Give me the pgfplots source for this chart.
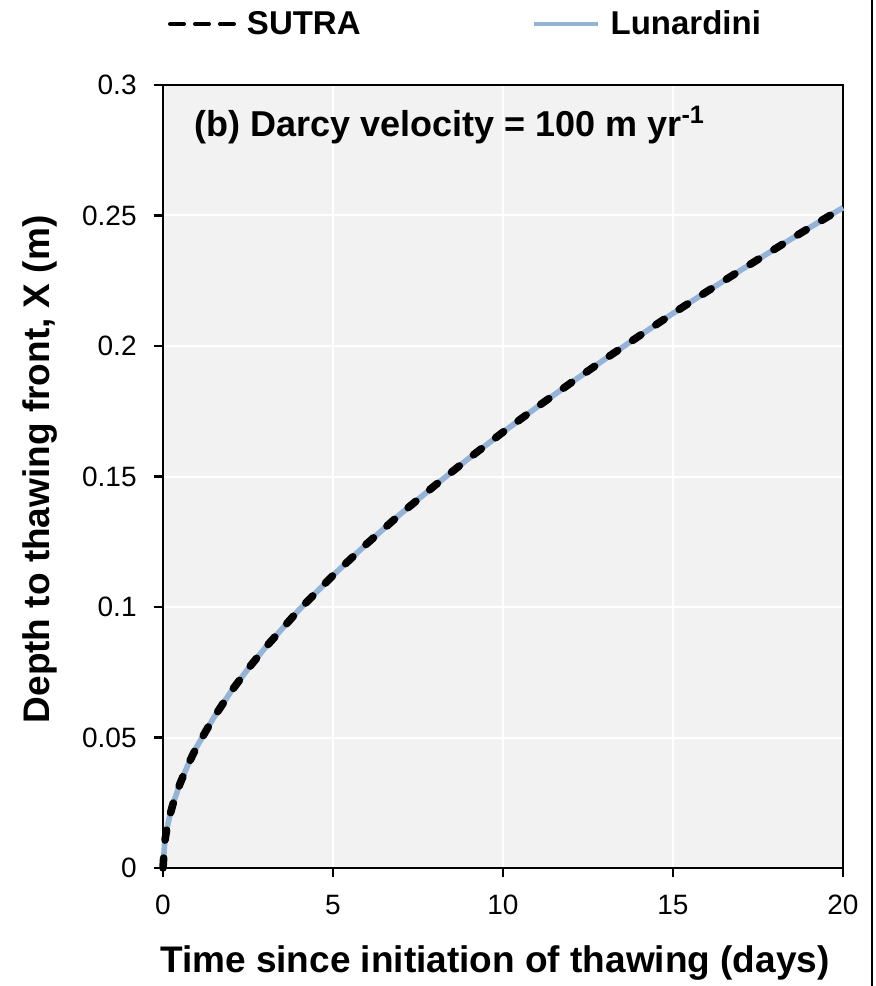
\documentclass[border=0pt]{standalone}
\usepackage{fontspec}
\setmainfont{Liberation Sans}
\usepackage{pgfplots}
\pgfplotsset{compat=1.18}
\definecolor{plotbg}{HTML}{F2F2F2}
\definecolor{lunblue}{HTML}{95B3D7}
\begin{document}
\begin{tikzpicture}
\useasboundingbox (-81.5pt,-59pt) rectangle (356pt,434pt);
\begin{axis}[
  at={(0pt,0pt)}, anchor=south west,
  scale only axis,
  width=340pt, height=391.5pt,
  xmin=0, xmax=20, ymin=0, ymax=0.3,
  xtick={0,5,10,15,20},
  ytick={0,0.05,0.1,0.15,0.2,0.25,0.3},
  yticklabels={0,0.05,0.1,0.15,0.2,0.25,0.3},
  xticklabels={0,5,10,15,20},
  axis background/.style={fill=plotbg},
  grid=major,
  major grid style={white, line width=1pt},
  axis line style={black, line width=1.3pt},
  tick style={black, line width=1.2pt},
  tick align=outside,
  xtick pos=bottom, ytick pos=left,
  major tick length=4.5pt,
  /pgf/number format/assume math mode=true,
  yticklabel style={anchor=east, inner sep=0pt, xshift=-8.5pt, font=\fontsize{14}{16}\selectfont},
  xticklabel style={anchor=north, inner sep=0pt, yshift=-9pt, font=\fontsize{14}{16}\selectfont},
  xlabel={\textbf{Time since initiation of thawing (days)}},
  ylabel={\textbf{Depth to thawing front, X (m)}},
  label style={font=\fontsize{18.5}{20}\selectfont},
  xlabel style={at={(axis description cs:0.488,-0.1213)}, anchor=center},
  ylabel style={at={(axis description cs:-0.1809,0.509)}, anchor=center},
  legend columns=2,
  legend style={at={(axis description cs:0.00735,1.0779)}, anchor=west,
    draw=none, fill=none, inner sep=0pt, outer sep=0pt,
    font=\bfseries\fontsize{16.5}{18}\selectfont,
    nodes={inner sep=0pt},
    /tikz/every odd column/.append style={column sep=5.5pt},
    /tikz/every even column/.append style={column sep=85.5pt}},
  legend cell align=left,
  clip=false,
]
\addplot[lunblue, line width=2.8pt, forget plot] coordinates {
(0,0) (0.05,0.0099) (0.1,0.0141) (0.2,0.0201) (0.3,0.0248) (0.5,0.0323)
(0.75,0.0400) (1,0.0466) (1.5,0.0578) (2,0.0676) (2.5,0.0763) (3,0.0843)
(4,0.0989) (5,0.1121) (6,0.1243) (7,0.1358) (8,0.1466) (9,0.1570)
(10,0.1670) (11,0.1766) (12,0.1859) (13,0.1950) (14,0.2038) (15,0.2125)
(16,0.2209) (17,0.2291) (18,0.2372) (19,0.2452) (20,0.2530)};
\addplot[black, line width=3.8pt, line cap=round, dash pattern=on 5pt off 9pt,
  legend image code/.code={\draw[black, line width=2pt, dash pattern=on 7pt off 5.5pt] (0pt,0pt) -- (32pt,0pt);}] coordinates {
(0,0) (0.05,0.0099) (0.1,0.0141) (0.2,0.0201) (0.3,0.0248) (0.5,0.0323)
(0.75,0.0400) (1,0.0466) (1.5,0.0578) (2,0.0676) (2.5,0.0763) (3,0.0843)
(4,0.0989) (5,0.1121) (6,0.1243) (7,0.1358) (8,0.1466) (9,0.1570)
(10,0.1670) (11,0.1766) (12,0.1859) (13,0.1950) (14,0.2038) (15,0.2125)
(16,0.2209) (17,0.2291) (18,0.2372) (19,0.2452) (20,0.2530)};
\addlegendentry{SUTRA}
\addlegendimage{lunblue, line width=2pt, legend image code/.code={\draw[lunblue, line width=2pt] (0pt,0pt) -- (32pt,0pt);}}
\addlegendentry{Lunardini}
\node[anchor=west, inner sep=0pt, font=\bfseries\fontsize{18}{20}\selectfont] at (axis cs:0.91,0.2847) {(b) Darcy velocity = 100 m yr\textsuperscript{-1}};
\end{axis}
\draw[black, line width=1pt] (354.5pt,-59pt) -- (354.5pt,434pt);
\end{tikzpicture}
\end{document}
